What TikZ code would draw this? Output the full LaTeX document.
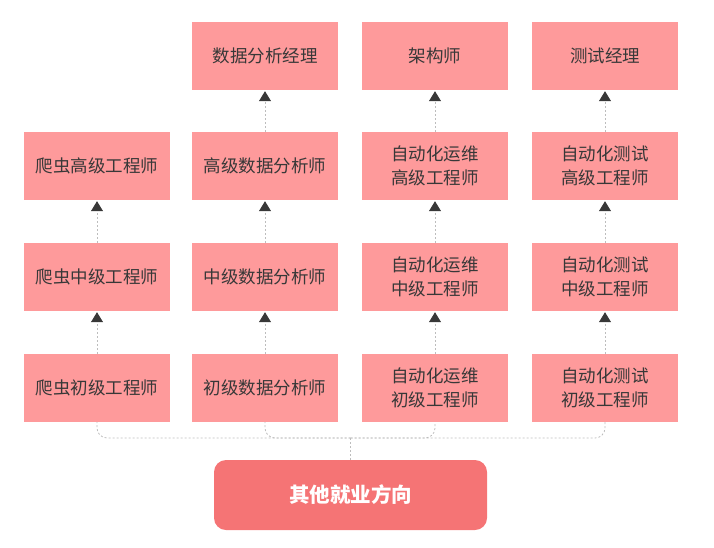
\documentclass[tikz,border=0pt]{standalone}
\usepackage{fontspec}
\setmainfont{Noto Sans CJK SC}
\usetikzlibrary{arrows.meta}
\definecolor{boxpink}{HTML}{FE9A9B}
\definecolor{basered}{HTML}{F57475}
\definecolor{txtgray}{HTML}{383838}
\definecolor{linegray}{HTML}{BDBDBD}
\tikzset{
	job/.style={fill=boxpink, minimum width=146pt, minimum height=68pt, inner sep=0pt,
		align=center, text=txtgray, font=\fontsize{17.5}{24}\selectfont},
	promote/.style={draw=linegray, dash pattern=on 2pt off 2pt, line width=0.8pt,
		-{Triangle[width=12pt,length=10pt,color=txtgray]}, shorten >=1pt},
	link/.style={draw=linegray, dash pattern=on 2pt off 2pt, line width=0.8pt, rounded corners=10pt}
}
\begin{document}
\begin{tikzpicture}[x=1pt,y=-1pt]
	\useasboundingbox (0,0) rectangle (714,547);

	% top row
	\node[job] (dmgr) at (265,56) {数据分析经理};
	\node[job] (arch) at (435,56) {架构师};
	\node[job] (tmgr) at (605,56) {测试经理};

	% senior
	\node[job] (spS) at (97,166) {爬虫高级工程师};
	\node[job] (daS) at (265,166) {高级数据分析师};
	\node[job] (opS) at (435,166) {自动化运维\\高级工程师};
	\node[job] (qaS) at (605,166) {自动化测试\\高级工程师};

	% middle
	\node[job] (spM) at (97,277) {爬虫中级工程师};
	\node[job] (daM) at (265,277) {中级数据分析师};
	\node[job] (opM) at (435,277) {自动化运维\\中级工程师};
	\node[job] (qaM) at (605,277) {自动化测试\\中级工程师};

	% junior
	\node[job] (spJ) at (97,388) {爬虫初级工程师};
	\node[job] (daJ) at (265,388) {初级数据分析师};
	\node[job] (opJ) at (435,388) {自动化运维\\初级工程师};
	\node[job] (qaJ) at (605,388) {自动化测试\\初级工程师};

	% base
	\node[fill=basered, rounded corners=12pt, minimum width=273pt, minimum height=70pt,
		text=white, font=\fontsize{20.5}{24}\selectfont\bfseries] (base) at (350.5,495) {其他就业方向};

	% arrows up
	\draw[promote] (spJ.north) -- (spM.south);
	\draw[promote] (spM.north) -- (spS.south);
	\draw[promote] (daJ.north) -- (daM.south);
	\draw[promote] (daM.north) -- (daS.south);
	\draw[promote] (daS.north) -- (dmgr.south);
	\draw[promote] (opJ.north) -- (opM.south);
	\draw[promote] (opM.north) -- (opS.south);
	\draw[promote] (opS.north) -- (arch.south);
	\draw[promote] (qaJ.north) -- (qaM.south);
	\draw[promote] (qaM.north) -- (qaS.south);
	\draw[promote] (qaS.north) -- (tmgr.south);

	% links to base
	\coordinate (hub) at (350.5,438);
	\draw[link] (base.north) -- (hub);
	\draw[link] (hub) -| (spJ.south);
	\draw[link] (hub) -| (daJ.south);
	\draw[link] (hub) -| (opJ.south);
	\draw[link] (hub) -| (qaJ.south);
\end{tikzpicture}
\end{document}
